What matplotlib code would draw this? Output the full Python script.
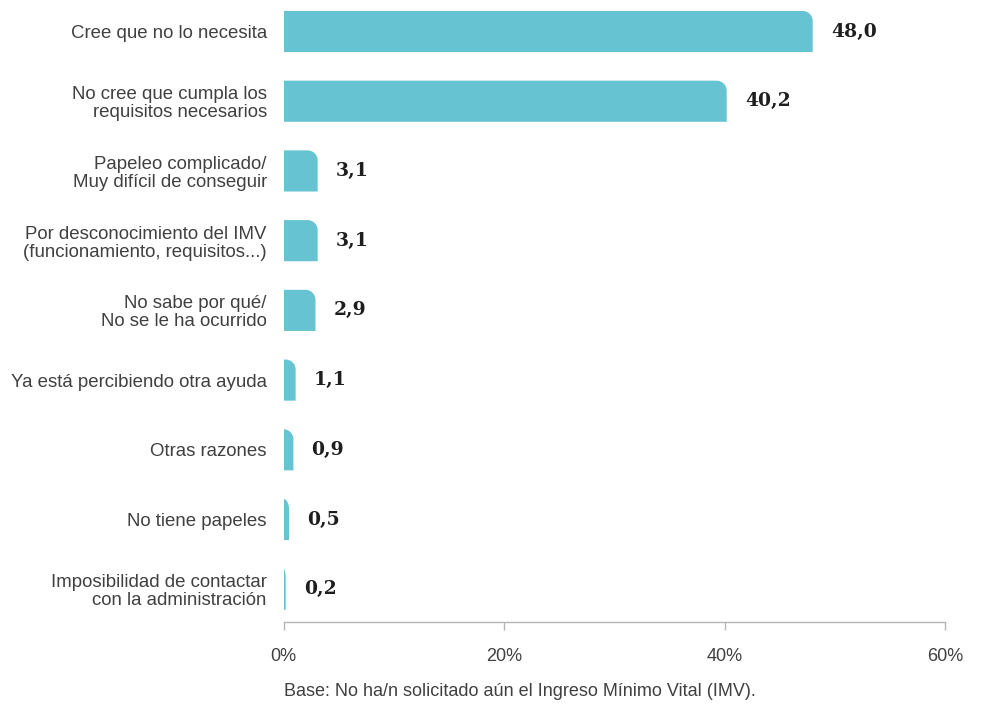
import numpy as np
import matplotlib.pyplot as plt
from matplotlib.path import Path
from matplotlib.patches import PathPatch

categories = [
    'Cree que no lo necesita',
    'No cree que cumpla los\nrequisitos necesarios',
    'Papeleo complicado/\nMuy difícil de conseguir',
    'Por desconocimiento del IMV\n(funcionamiento, requisitos...)',
    'No sabe por qué/\nNo se le ha ocurrido',
    'Ya está percibiendo otra ayuda',
    'Otras razones',
    'No tiene papeles',
    'Imposibilidad de contactar\ncon la administración',
]
values = [48.0, 40.2, 3.1, 3.1, 2.9, 1.1, 0.9, 0.5, 0.2]
xticks = [0, 20, 40, 60]
xticklabels = ['0%', '20%', '40%', '60%']
footnote = 'Base: No ha/n solicitado aún el Ingreso Mínimo Vital (IMV).'

bar_color = '#66C4D2'
text_color = '#404040'

fig = plt.figure(figsize=(9.83, 7.04), dpi=100)
ax = fig.add_axes([283.5 / 983, 1 - 622 / 704, 661.5 / 983, 622 / 704])

y = np.arange(len(categories))
h = 0.59
ax.set_xlim(0, 60)
ax.set_ylim(8.47, -0.452)

# rounded top-right corner, radius ~10px
px_x = 60 / 661.5
px_y = 8.922 / 622
k = 0.5523
for yi, v in zip(y, values):
    top = yi - h / 2
    bot = yi + h / 2
    rx = min(10 * px_x, v)
    ry = 10 * px_y
    verts = [(0, bot), (v, bot), (v, top + ry),
             (v, top + ry * (1 - k)), (v - rx * (1 - k), top), (v - rx, top),
             (0, top), (0, bot)]
    codes = [Path.MOVETO, Path.LINETO, Path.LINETO,
             Path.CURVE4, Path.CURVE4, Path.CURVE4,
             Path.LINETO, Path.CLOSEPOLY]
    ax.add_patch(PathPatch(Path(verts, codes), facecolor=bar_color,
                           edgecolor='none'))
    ax.annotate(f'{v:.1f}'.replace('.', ','), (v, yi), xytext=(13, 0),
                textcoords='offset points', ha='left', va='center',
                fontsize=13.5, fontweight='heavy', family='DejaVu Serif',
                color='#1e1e1e')

ax.set_yticks(y)
ax.set_yticklabels(categories, fontsize=13.4, family='Liberation Sans',
                   color=text_color, linespacing=1.08)
ax.tick_params(axis='y', length=0, pad=12)
ax.set_xticks(xticks)
ax.set_xticklabels(xticklabels, fontsize=13, family='Liberation Sans',
                   color=text_color)
ax.tick_params(axis='x', length=6, width=1, color='#b5b5b5', pad=12.5)

for s in ['top', 'right', 'left']:
    ax.spines[s].set_visible(False)
ax.spines['bottom'].set_color('#b5b5b5')
ax.spines['bottom'].set_linewidth(1)

fig.text(284 / 983, 1 - 691 / 704, footnote, ha='left', va='center',
         fontsize=13, family='Liberation Sans', color=text_color)

fig.savefig('out.png', dpi=100)
